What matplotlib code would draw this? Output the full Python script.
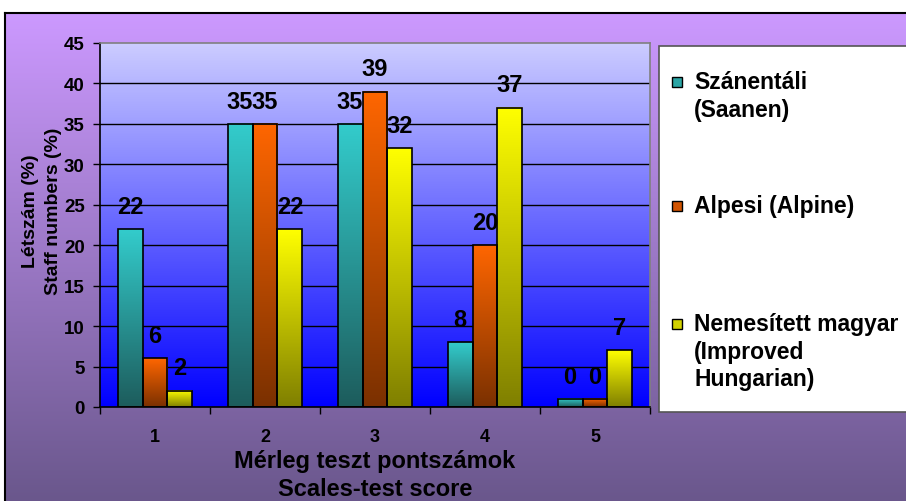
import numpy as np
import matplotlib
matplotlib.use("Agg")
import matplotlib.pyplot as plt
from matplotlib.colors import LinearSegmentedColormap
from matplotlib.patches import Rectangle

plt.rcParams['font.family'] = ['Liberation Sans', 'DejaVu Sans']
plt.rcParams['font.weight'] = 'bold'

categories = ['1', '2', '3', '4', '5']
saanen = [22, 35, 35, 8, 1]
alpine = [6, 35, 39, 20, 1]
hungarian = [2, 22, 32, 37, 7]
saanen_labels = ['22', '35', '35', '8', '0']
alpine_labels = ['6', '35', '39', '20', '0']
hungarian_labels = ['2', '22', '32', '37', '7']
series_names = ['Szánentáli\n(Saanen)', 'Alpesi (Alpine)',
                'Nemesített magyar\n(Improved\nHungarian)']

# top colour, bottom colour of each bar gradient
bar_colors = [('#33CCCC', '#1D5C5C'), ('#FF6600', '#7A3000'), ('#FFFF00', '#7F7F00')]

W, H = 906, 502
fig = plt.figure(figsize=(W / 100, H / 100), dpi=100)

# background in pixel coordinates
bg = fig.add_axes([0, 0, 1, 1], zorder=0)
bg.set_xlim(0, W)
bg.set_ylim(H, 0)
bg.axis('off')
fig_cmap = LinearSegmentedColormap.from_list('figbg', ['#CC99FF', '#6A578C'])
grad = np.linspace(0, 1, 256).reshape(-1, 1)
bg.imshow(grad, cmap=fig_cmap, extent=(5, W, H, 14), origin='upper', aspect='auto')
bg.plot([5, W], [14, 14], color='black', lw=1.5)
bg.plot([5, 5], [14, H], color='black', lw=1.5)

# legend box
bg.add_patch(Rectangle((659, 47), 260, 366, facecolor='white', edgecolor='#555555', lw=1.2))
leg_y = [83, 207, 325]
for (top, bot), name, y in zip(bar_colors, series_names, leg_y):
    mid = LinearSegmentedColormap.from_list('m', [top, bot])(0.35)
    bg.add_patch(Rectangle((672, y - 5), 10, 10, facecolor=mid, edgecolor='black', lw=1))
    bg.text(694, y - 12, name, fontsize=16.5, fontweight='bold', va='top', ha='left',
            linespacing=1.26)
bg.set_xlim(0, W)
bg.set_ylim(H, 0)

# plot area
ax = fig.add_axes([100 / W, 1 - 408 / H, 550 / W, 364 / H], zorder=1)
ax.set_xlim(-0.5, 4.5)
ax.set_ylim(0, 45)
plot_cmap = LinearSegmentedColormap.from_list('plotbg', ['#0000FF', '#CCCCFF'])
ax.imshow(grad, cmap=plot_cmap, extent=(-0.5, 4.5, 0, 45), origin='lower',
          aspect='auto', zorder=0)
for yv in range(5, 45, 5):
    ax.axhline(yv, color='black', lw=1, zorder=1)

width = 0.227
x = np.arange(len(categories))
for i, (vals, labels, (top, bot)) in enumerate(zip([saanen, alpine, hungarian],
                                                    [saanen_labels, alpine_labels, hungarian_labels],
                                                    bar_colors)):
    cmap = LinearSegmentedColormap.from_list('bar%d' % i, [bot, top])
    for xc, v, lab in zip(x + (i - 1) * width, vals, labels):
        x0 = xc - width / 2
        ax.imshow(grad, cmap=cmap, extent=(x0, x0 + width, 0, v), origin='lower',
                  aspect='auto', zorder=2)
        ax.add_patch(Rectangle((x0, 0), width, v, fill=False, edgecolor='black', lw=1.2, zorder=3))
        ax.text(xc, v + 1.4, lab, ha='center', va='bottom', fontsize=17,
                fontweight='bold', zorder=4)

ax.set_xlim(-0.5, 4.5)
ax.set_ylim(0, 45)
ax.set_yticks(range(0, 50, 5))
ax.set_xticks(np.arange(-0.5, 5, 1))
ax.set_xticklabels([])
ax.set_xticks(x, minor=True)
ax.set_xticklabels(categories, minor=True)
ax.tick_params(axis='x', which='minor', length=0, pad=15, labelsize=13)
ax.tick_params(axis='x', which='major', length=5, width=1, direction='out')
ax.tick_params(axis='y', length=5, width=1, direction='out', pad=6, labelsize=13.5)
for lab in ax.get_yticklabels() + ax.get_xticklabels(minor=True):
    lab.set_fontweight('bold')

for s in ['left', 'bottom']:
    ax.spines[s].set_color('black')
    ax.spines[s].set_linewidth(1.2)
for s in ['top', 'right']:
    ax.spines[s].set_color('#808080')
    ax.spines[s].set_linewidth(1.2)

ax.set_xlabel('Mérleg teszt pontszámok\nScales-test score', fontsize=17,
              fontweight='bold', labelpad=3, linespacing=1.3)
ax.set_ylabel('Létszám (%)\nStaff numbers (%)', fontsize=14, fontweight='bold',
              labelpad=2, linespacing=1.45)
ax.yaxis.set_label_coords(-0.069, 0.54)

fig.savefig('out.png', dpi=100)
